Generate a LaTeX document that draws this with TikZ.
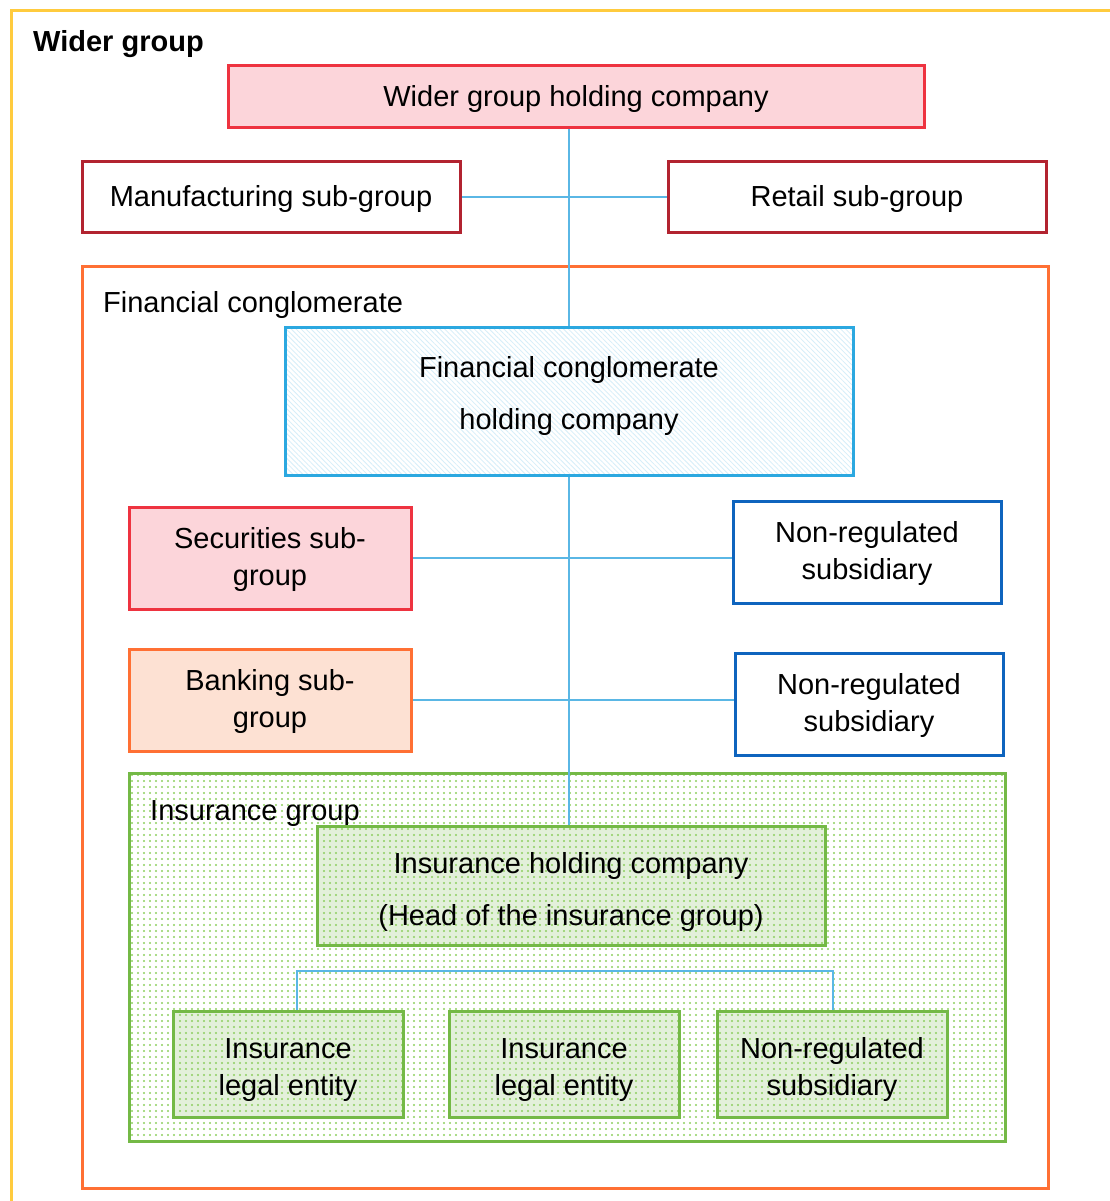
\documentclass[tikz,border=0pt]{standalone}
\usepackage{fontspec}
\setmainfont{Liberation Sans}
\usetikzlibrary{patterns.meta}
\pgfdeclarelayer{back}
\pgfdeclarelayer{mid}
\pgfsetlayers{back,mid,main}
\definecolor{pinkfill}{HTML}{FCD5DA}
\definecolor{redb}{HTML}{EE3340}
\definecolor{darkredb}{HTML}{B22330}
\definecolor{blueb}{HTML}{2BA8E0}
\definecolor{navyb}{HTML}{0E64BE}
\definecolor{orangeb}{HTML}{FF7034}
\definecolor{orangefill}{HTML}{FDE1D3}
\definecolor{greenb}{HTML}{74B946}
\definecolor{greendot}{HTML}{8ECF60}
\definecolor{greenfill}{HTML}{E3F0DA}
\definecolor{yellowb}{HTML}{FFCB3E}
\definecolor{linkblue}{HTML}{5AB7E5}
\definecolor{hatchblue}{HTML}{D6EEF9}
\newcommand\tup[1]{\rule{0pt}{#1pt}}
\newcommand\tlow[1]{\rule[-#1pt]{0pt}{0pt}}
\tikzset{
  box/.style={draw, rectangle, line width=3pt, inner sep=0pt, align=center,
    font=\fontsize{29}{37}\selectfont},
  frame/.style={draw, rectangle, line width=3pt, inner sep=0pt},
  lbl/.style={anchor=west, inner sep=0pt, font=\fontsize{29}{35}\selectfont},
  link/.style={draw=linkblue, line width=1.4pt},
  dotfill/.style={pattern={Dots[distance=6pt, radius=1.05pt]}, pattern color=greendot},
  greenbox/.style={box, draw=greenb, preaction={fill=greenfill}, dotfill},
}
\begin{document}
\begin{tikzpicture}[x=1pt, y=-1pt]
\useasboundingbox (0,0) rectangle (1109,1201);
\clip (0,0) rectangle (1109,1201);
\begin{pgfonlayer}{back}
\node[frame, draw=yellowb, minimum width=1112, minimum height=1210] (wg) at (567,616) {};
\node[frame, draw=orangeb, minimum width=966, minimum height=922] (fc) at (565,727) {};
\node[frame, draw=greenb, minimum width=876, minimum height=368, dotfill] (ig) at (567,957) {};
\end{pgfonlayer}
\node[lbl, font=\fontsize{29}{35}\selectfont\bfseries] (wgl) at (33,44) {Wider group};
\node[lbl] (fcl) at (103,305) {Financial conglomerate};
\node[lbl] (igl) at (150,814) {Insurance group};
\coordinate (bl) at (297,971);
\coordinate (br) at (833,971);
\node[box, draw=redb, fill=pinkfill, minimum width=696, minimum height=62] (wgh) at (576,97) {\tup{25}Wider group holding company};
\node[box, draw=darkredb, fill=white, minimum width=378, minimum height=70] (manu) at (271,197) {\tup{25}Manufacturing sub-group};
\node[box, draw=darkredb, fill=white, minimum width=378, minimum height=70] (ret) at (857,197) {\tup{25}Retail sub-group};
\node[box, draw=blueb, preaction={fill=white}, pattern={Lines[angle=-45, distance=3.5pt, line width=0.8pt]}, pattern color=hatchblue, minimum width=568, minimum height=148, font=\fontsize{29}{52}\selectfont] (fch) at (569,401) {Financial conglomerate\\holding company\tlow{16}};
\node[box, draw=redb, fill=pinkfill, minimum width=282, minimum height=102] (sec) at (270,558) {\tup{25}Securities sub-\\group};
\node[box, draw=navyb, fill=white, minimum width=268, minimum height=102] (nr1) at (867,552) {\tup{25}Non-regulated\\subsidiary};
\node[box, draw=orangeb, fill=orangefill, minimum width=282, minimum height=102] (bank) at (270,700) {\tup{25}Banking sub-\\group};
\node[box, draw=navyb, fill=white, minimum width=268, minimum height=102] (nr2) at (869,704) {\tup{25}Non-regulated\\subsidiary};
\node[greenbox, minimum width=508, minimum height=119, font=\fontsize{29}{52}\selectfont] (ihc) at (571,885.5) {\tup{33}Insurance holding company\\(Head of the insurance group)};
\node[greenbox, minimum width=230, minimum height=106] (ile1) at (288,1064) {\tup{31}Insurance\\legal entity};
\node[greenbox, minimum width=230, minimum height=106] (ile2) at (564,1064) {\tup{31}Insurance\\legal entity};
\node[greenbox, minimum width=230, minimum height=106] (nrs3) at (832,1064) {\tup{31}Non-regulated\\subsidiary};
\begin{pgfonlayer}{mid}
\draw[link] (fch.north |- wgh.south) -- (fch.north);
\draw[link] (manu.east) -- (ret.west);
\draw[link] (fch.south) -- (fch.south |- ihc.north);
\draw[link] (sec.east) -- (sec.east -| nr1.west);
\draw[link] (bank.east) -- (bank.east -| nr2.west);
\draw[link] (bl |- ile1.north) -- (bl) -- (br) -- (br |- nrs3.north);
\end{pgfonlayer}
\end{tikzpicture}
\end{document}
